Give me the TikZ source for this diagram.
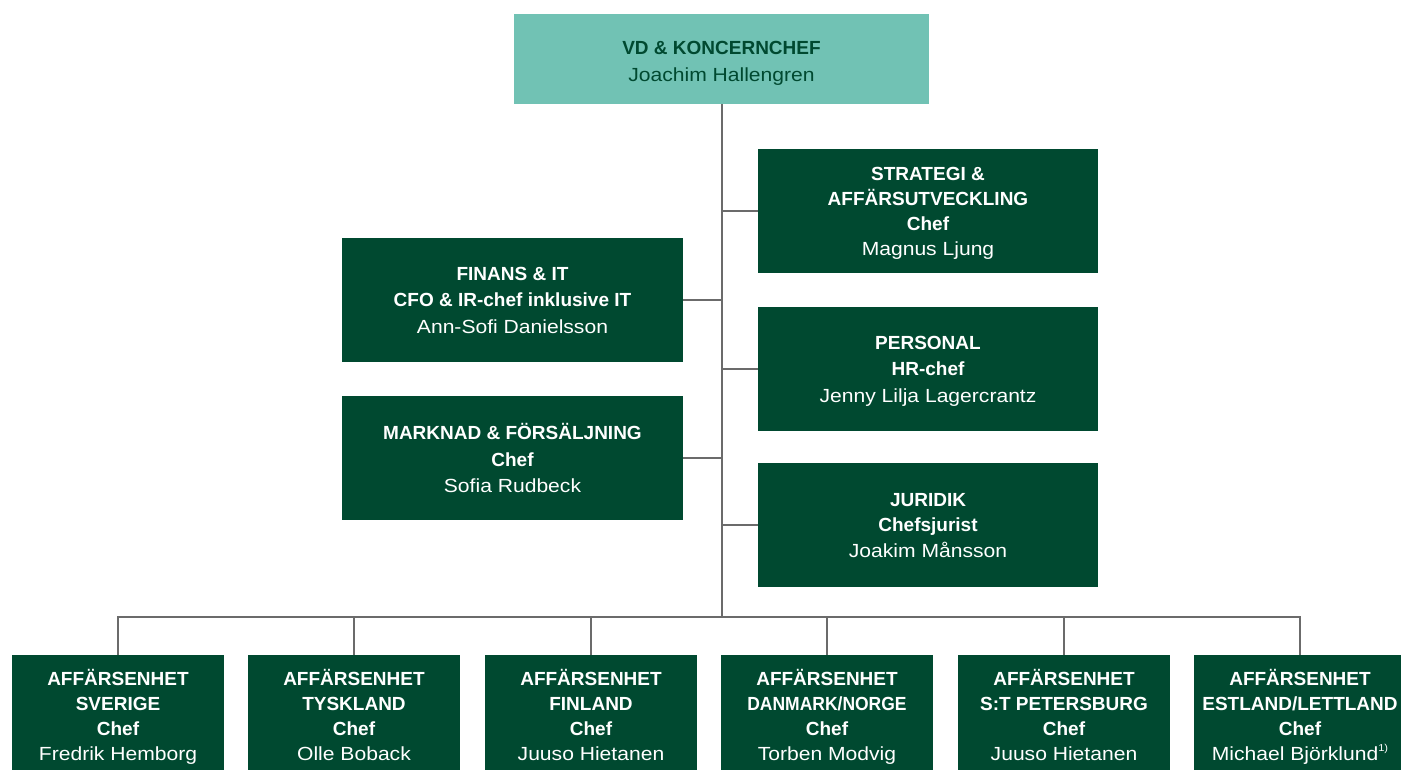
\documentclass[tikz,border=0pt]{standalone}
\usepackage{fontspec}
\usepackage{graphicx}
\setmainfont{Liberation Sans}
\newfontfamily\namefont[FakeStretch=1.11]{Liberation Sans}
\definecolor{ceoTeal}{HTML}{71C2B4}
\definecolor{boxGreen}{HTML}{004930}
\definecolor{lineGray}{HTML}{6B6B6B}
\tikzset{
  base/.style={rectangle, align=center, inner sep=0pt, text depth=0pt},
  ceobox/.style={base, fill=ceoTeal, minimum width=415pt, minimum height=90pt},
  ceotext/.style={base, text=boxGreen, font=\fontsize{19}{27}\selectfont},
  midbox/.style={base, fill=boxGreen, text=white, minimum width=341pt, minimum height=124pt, font=\fontsize{19}{26.5}\selectfont},
  unitbox/.style={base, fill=boxGreen, text=white, minimum width=212pt, minimum height=120pt, font=\fontsize{19}{25}\selectfont},
  conn/.style={draw=lineGray, line width=2pt}
}
\begin{document}
\begin{tikzpicture}[x=1pt,y=-1pt]
\useasboundingbox (0,0) rectangle (1401,769);
\node[ceobox] (ceo) at (721.5,59) {};
\node[ceotext] (ceoLabel) at (721.5,61) {\textbf{VD \& KONCERNCHEF}\\{\namefont Joachim Hallengren}};
\node[midbox, minimum width=340pt, font=\fontsize{19}{25}\selectfont] (strat) at (928,211) {\textbf{STRATEGI \&}\\\textbf{AFFÄRSUTVECKLING}\\\textbf{Chef}\\{\namefont Magnus Ljung}};
\node[midbox, minimum width=340pt] (pers) at (928,369) {\textbf{PERSONAL}\\\textbf{HR-chef}\\{\namefont Jenny Lilja Lagercrantz}};
\node[midbox, minimum width=340pt, font=\fontsize{19}{25.5}\selectfont] (jur) at (928,525) {\textbf{JURIDIK}\\\textbf{Chefsjurist}\\{\namefont Joakim Månsson}};
\node[midbox] (fin) at (512.5,300) {\textbf{FINANS \& IT}\\\textbf{CFO \& IR-chef inklusive IT}\\{\namefont Ann-Sofi Danielsson}};
\node[midbox] (mark) at (512.5,458) {\textbf{MARKNAD \& FÖRSÄLJNING}\\\textbf{Chef}\\{\namefont Sofia Rudbeck}};
\node[unitbox] (u1) at (118,715) {\textbf{AFFÄRSENHET}\\\textbf{SVERIGE}\\\textbf{Chef}\\{\namefont Fredrik Hemborg}};
\node[unitbox] (u2) at (354,715) {\textbf{AFFÄRSENHET}\\\textbf{TYSKLAND}\\\textbf{Chef}\\{\namefont Olle Boback}};
\node[unitbox] (u3) at (591,715) {\textbf{AFFÄRSENHET}\\\textbf{FINLAND}\\\textbf{Chef}\\{\namefont Juuso Hietanen}};
\node[unitbox] (u4) at (827,715) {\textbf{AFFÄRSENHET}\\\scalebox{0.92}[1]{\textbf{DANMARK/NORGE}}\\\textbf{Chef}\\{\namefont Torben Modvig}};
\node[unitbox] (u5) at (1064,715) {\textbf{AFFÄRSENHET}\\\textbf{S:T PETERSBURG}\\\textbf{Chef}\\{\namefont Juuso Hietanen}};
\node[unitbox] (u6) at (1300,715) {\textbf{AFFÄRSENHET}\\\textbf{ESTLAND/LETTLAND}\\\textbf{Chef}\\{\namefont Michael Björklund\raisebox{0.5em}{\fontsize{10}{10}\selectfont 1)}}};
\coordinate (bus) at (721.5,617);
\draw[conn] (ceo.south) -- (bus);
\draw[conn] (strat.west) -- (strat.west -| ceo.south);
\draw[conn] (pers.west) -- (pers.west -| ceo.south);
\draw[conn] (jur.west) -- (jur.west -| ceo.south);
\draw[conn] (fin.east) -- (fin.east -| ceo.south);
\draw[conn] (mark.east) -- (mark.east -| ceo.south);
\draw[conn] (u1.north) |- (bus) -| (u6.north);
\foreach \u in {u2,u3,u4,u5}{\draw[conn] (\u.north) -- (\u.north |- bus);}
\end{tikzpicture}
\end{document}
